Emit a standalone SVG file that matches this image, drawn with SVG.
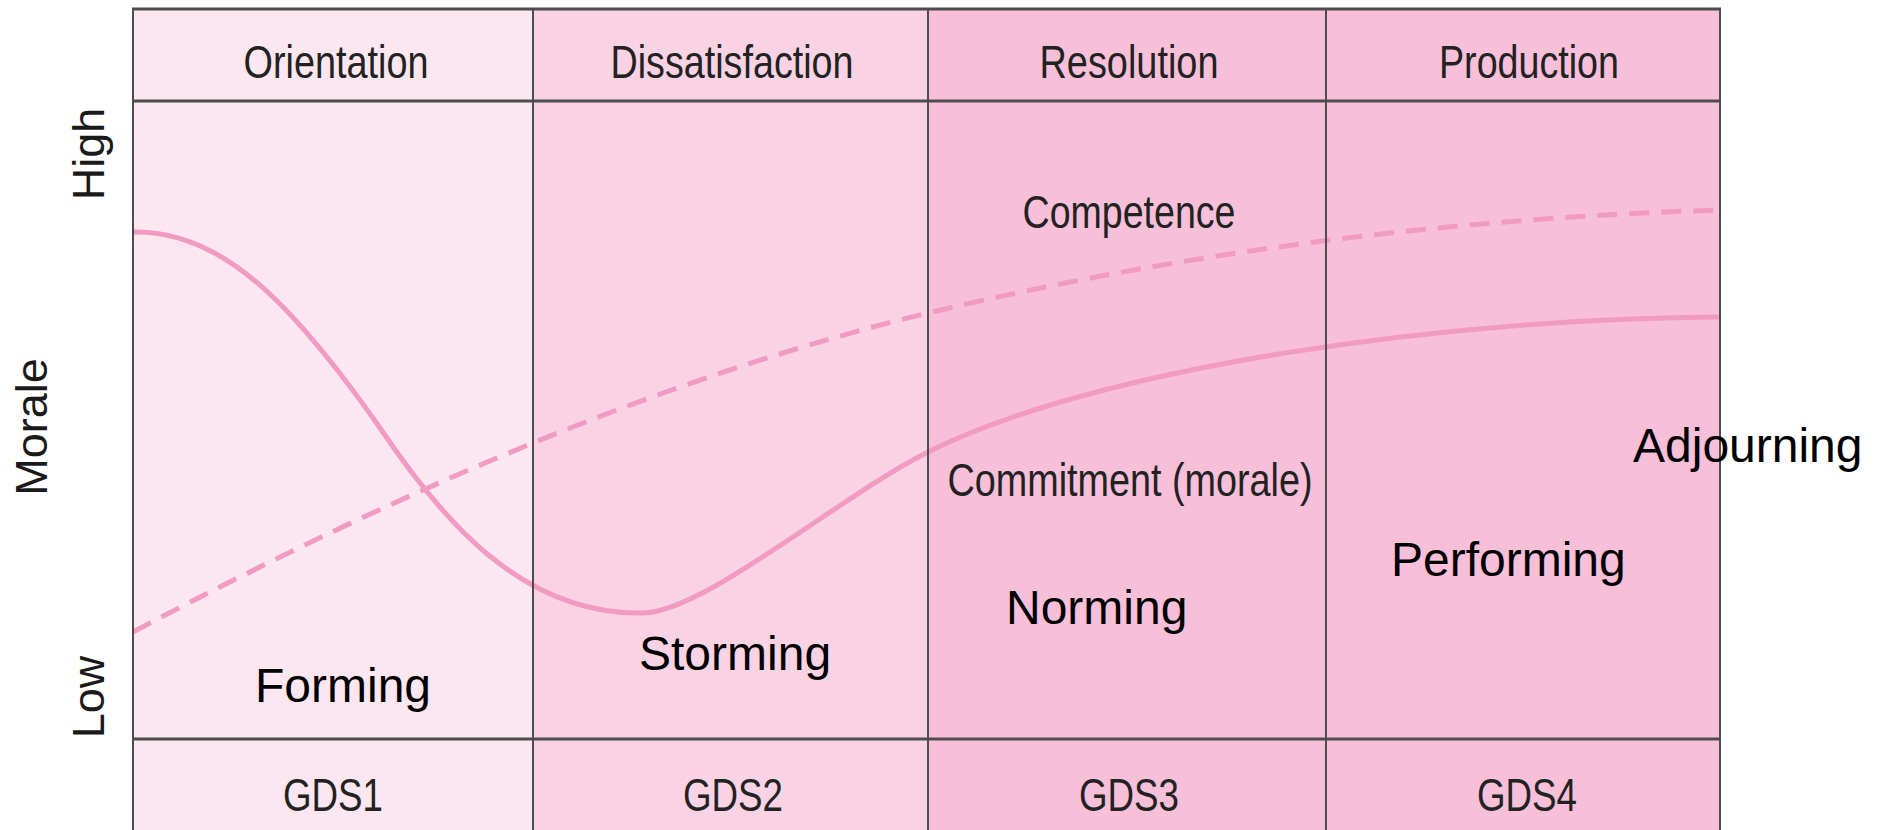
<svg xmlns="http://www.w3.org/2000/svg" width="1883" height="830" viewBox="0 0 1883 830">
  <style>
    .cond { font-family: "Liberation Sans Narrow", "Liberation Sans", Arial, sans-serif; font-size: 47px; fill: #222; }
    .axis { font-family: "Liberation Sans", Arial, sans-serif; font-size: 45px; fill: #1a1a1a; }
    .stage { font-family: "Liberation Sans", Arial, sans-serif; font-size: 48px; fill: #000; }
    .grid { stroke: #4d4d4d; stroke-width: 2; fill: none; }
    .gridh { stroke: #4d4d4d; stroke-width: 3; fill: none; }
    .curve { stroke: #f29bc2; stroke-width: 5; fill: none; stroke-linecap: butt; }
    .dashed { stroke-dasharray: 20 12; }
  </style>

  <rect x="0" y="0" width="1883" height="830" fill="#ffffff"/>

  <!-- column bands -->
  <g id="bands">
    <rect id="band-gds1" x="133" y="9" width="400" height="822" fill="#fce7f0"/>
    <rect id="band-gds2" x="533" y="9" width="395" height="822" fill="#f9d3e4"/>
    <rect id="band-gds3" x="928" y="9" width="398" height="822" fill="#f7bfd8"/>
    <rect id="band-gds4" x="1326" y="9" width="394" height="822" fill="#f7bfd8"/>
  </g>

  <!-- curves -->
  <g id="connectors">
    <path id="competence-curve" class="curve dashed" d="M133,632 C398,492 663,377 928,313 C1192,250 1456,218 1720,210"/>
    <path id="commitment-curve" class="curve" d="M133,232 C220,230 290,300 380,428 C440,517 520,614 640,613 C700,616 838,497 928,452 C1100,366 1450,318 1720,317"/>
  </g>

  <!-- table lines -->
  <g id="grid">
    <line class="gridh" x1="132" y1="9" x2="1721" y2="9"/>
    <line class="gridh" x1="132" y1="101" x2="1721" y2="101"/>
    <line class="gridh" x1="132" y1="739" x2="1721" y2="739"/>
    <line class="grid" x1="133" y1="8" x2="133" y2="830"/>
    <line class="grid" x1="533" y1="8" x2="533" y2="830"/>
    <line class="grid" x1="928" y1="8" x2="928" y2="830"/>
    <line class="grid" x1="1326" y1="8" x2="1326" y2="830"/>
    <line class="grid" x1="1720" y1="8" x2="1720" y2="830"/>
  </g>

  <!-- phase headers -->
  <g id="headers" text-anchor="middle">
    <text id="h-orientation" class="cond" x="336" y="78" textLength="185" lengthAdjust="spacingAndGlyphs">Orientation</text>
    <text id="h-dissatisfaction" class="cond" x="732" y="78" textLength="243" lengthAdjust="spacingAndGlyphs">Dissatisfaction</text>
    <text id="h-resolution" class="cond" x="1129" y="78" textLength="179" lengthAdjust="spacingAndGlyphs">Resolution</text>
    <text id="h-production" class="cond" x="1529" y="78" textLength="180" lengthAdjust="spacingAndGlyphs">Production</text>
  </g>

  <!-- stage codes -->
  <g id="footers" text-anchor="middle">
    <text id="f-gds1" class="cond" x="333" y="811" textLength="100" lengthAdjust="spacingAndGlyphs">GDS1</text>
    <text id="f-gds2" class="cond" x="733" y="811" textLength="100" lengthAdjust="spacingAndGlyphs">GDS2</text>
    <text id="f-gds3" class="cond" x="1129" y="811" textLength="100" lengthAdjust="spacingAndGlyphs">GDS3</text>
    <text id="f-gds4" class="cond" x="1527" y="811" textLength="100" lengthAdjust="spacingAndGlyphs">GDS4</text>
  </g>

  <!-- curve labels -->
  <g id="curve-labels" text-anchor="middle">
    <text id="label-competence" class="cond" x="1129" y="228" textLength="213" lengthAdjust="spacingAndGlyphs">Competence</text>
    <text id="label-commitment" class="cond" x="1130" y="496" textLength="365" lengthAdjust="spacingAndGlyphs">Commitment (morale)</text>
  </g>

  <!-- vertical axis -->
  <g id="axis" text-anchor="middle">
    <text id="axis-high" class="axis" transform="translate(104,154) rotate(-90)">High</text>
    <text id="axis-morale" class="axis" transform="translate(47,427) rotate(-90)">Morale</text>
    <text id="axis-low" class="axis" transform="translate(104,697) rotate(-90)">Low</text>
  </g>

  <!-- team stages -->
  <g id="stages">
    <text id="stage-forming" class="stage" x="255" y="702">Forming</text>
    <text id="stage-storming" class="stage" x="639" y="670">Storming</text>
    <text id="stage-norming" class="stage" x="1006" y="624">Norming</text>
    <text id="stage-performing" class="stage" x="1391" y="576">Performing</text>
    <text id="stage-adjourning" class="stage" x="1633" y="462">Adjourning</text>
  </g>
</svg>
